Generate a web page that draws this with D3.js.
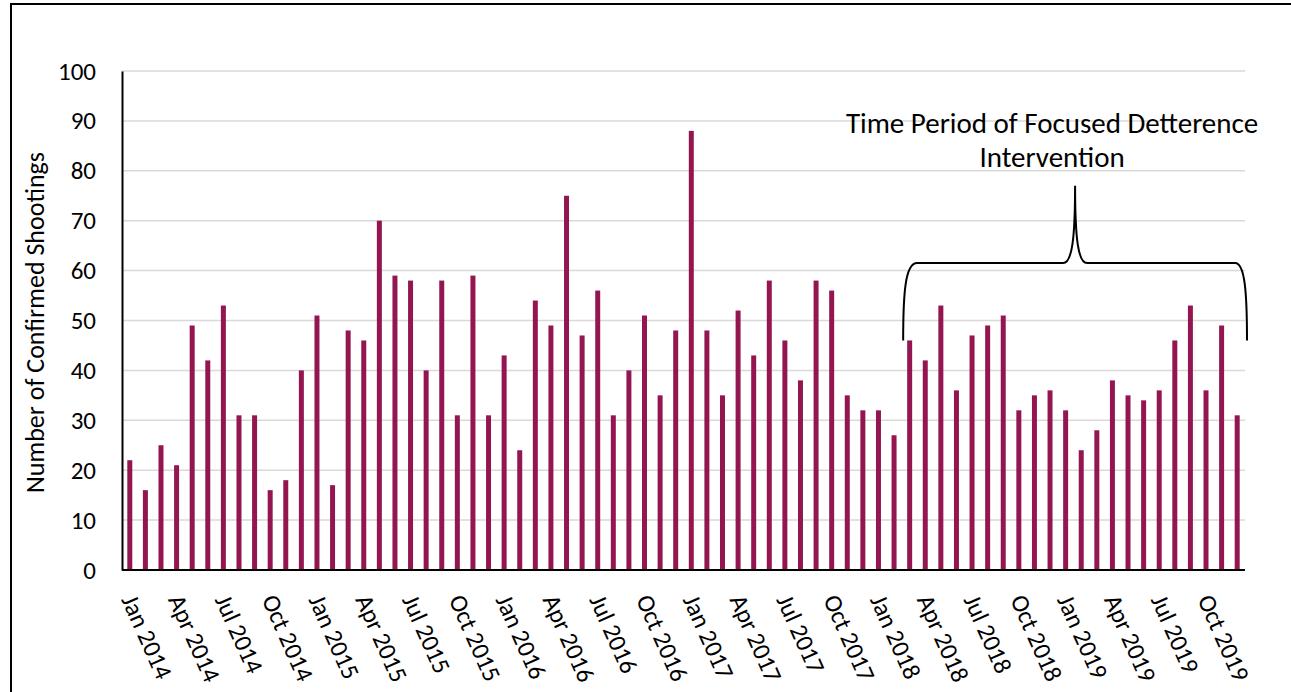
<!DOCTYPE html>
<html>
<head>
<meta charset="utf-8">
<script src="https://cdn.jsdelivr.net/npm/d3@7"></script>
<style>
  body { margin: 0; background: #fff; }
  svg text { font-family: Carlito, Calibri, Lato, sans-serif; fill: #000; }
</style>
</head>
<body>
<svg id="chart" width="1291" height="692"></svg>
<script>
const months = ['Jan', 'Feb', 'Mar', 'Apr', 'May', 'Jun', 'Jul', 'Aug', 'Sep', 'Oct', 'Nov', 'Dec']
const years = [2014, 2015, 2016, 2017, 2018, 2019]

// monthly confirmed shootings, Jan 2014 .. Dec 2019
const shootings = [
    22, 16, 25, 21, 49, 42, 53, 31, 31, 16, 18, 40,
    51, 17, 48, 46, 70, 59, 58, 40, 58, 31, 59, 31,
    43, 24, 54, 49, 75, 47, 56, 31, 40, 51, 35, 48,
    88, 48, 35, 52, 43, 58, 46, 38, 58, 56, 35, 32,
    32, 27, 46, 42, 53, 36, 47, 49, 51, 32, 35, 36,
    32, 24, 28, 38, 35, 34, 36, 46, 53, 36, 49, 31
]
const yTicks = [0, 10, 20, 30, 40, 50, 60, 70, 80, 90, 100]

// intervention period (month index where the bracket starts) and bracket levels
const interventionStart = 50
const bracketLevels = { foot: 46, bar: 61.5, peak: 77 }
const annotationLines = ['Time Period of Focused Detterence', 'Intervention']

const labels = []
years.forEach(y => months.forEach(m => labels.push(`${m} ${y}`)))

const margin = { top: 71, right: 46, bottom: 122, left: 122 }
const width = 1291 - margin.left - margin.right
const height = 692 - margin.top - margin.bottom

const svg = d3.select('#chart')

// outer frame
svg.append('rect')
    .attr('x', 11).attr('y', 4)
    .attr('width', 1300).attr('height', 720)
    .attr('fill', 'none')
    .attr('stroke', '#000')
    .attr('stroke-width', 2)

const g = svg.append('g').attr('transform', `translate(${margin.left},${margin.top})`)

const x = d3.scaleBand()
    .domain(d3.range(shootings.length))
    .range([0, width])
    .paddingInner(0.68)
    .paddingOuter(0.34)

const y = d3.scaleLinear().domain([0, 100]).range([height, 0])

// gridlines
g.selectAll('.grid')
    .data(yTicks.slice(1))
    .join('line')
    .attr('class', 'grid')
    .attr('x1', 0).attr('x2', width)
    .attr('y1', d => y(d)).attr('y2', d => y(d))
    .attr('stroke', '#d9d9d9')
    .attr('stroke-width', 1.5)

// bars
g.selectAll('.bar')
    .data(shootings)
    .join('rect')
    .attr('class', 'bar')
    .attr('x', (d, i) => x(i))
    .attr('y', d => y(d))
    .attr('width', x.bandwidth())
    .attr('height', d => height - y(d))
    .attr('fill', '#941650')

// y axis
const yAxis = d3.axisLeft(y).tickValues(yTicks).tickSize(0).tickPadding(26)
g.append('g')
    .call(yAxis)
    .call(a => a.select('.domain').attr('stroke', '#000').attr('stroke-width', 2))
    .call(a => a.selectAll('text').style('font-size', '25px').style('font-family', 'Carlito, Calibri, Lato, sans-serif').attr('fill', '#000'))

// x axis line
g.append('line')
    .attr('x1', 0).attr('x2', width)
    .attr('y1', height).attr('y2', height)
    .attr('stroke', '#000')
    .attr('stroke-width', 2)

// x labels every third month
const tickIdx = d3.range(0, shootings.length, 3)
g.selectAll('.xlab')
    .data(tickIdx)
    .join('text')
    .attr('class', 'xlab')
    .attr('transform', i => `translate(${x(i) + x.bandwidth() / 2 - 1},${height + 26}) rotate(66)`)
    .attr('dominant-baseline', 'central')
    .style('font-size', '25px')
    .text(i => labels[i])

// y axis title
svg.append('text')
    .attr('transform', `translate(35,${margin.top + height / 2 + 2}) rotate(-90)`)
    .attr('text-anchor', 'middle')
    .attr('dominant-baseline', 'central')
    .style('font-size', '26px')
    .text('Number of Confirmed Shootings')

// curly bracket over the intervention period
const bx0 = x(interventionStart) - 4
const bx1 = width + 2
const bmid = (bx0 + bx1) / 2
const yFoot = y(bracketLevels.foot)
const yBar = y(bracketLevels.bar)
const yPeak = y(bracketLevels.peak)
const bracket = d3.path()
bracket.moveTo(bx0, yFoot)
bracket.bezierCurveTo(bx0, yBar + 30, bx0 + 2, yBar, bx0 + 14, yBar)
bracket.lineTo(bmid - 12, yBar)
bracket.bezierCurveTo(bmid - 3, yBar, bmid, yBar - 25, bmid, yPeak)
bracket.bezierCurveTo(bmid, yBar - 25, bmid + 3, yBar, bmid + 12, yBar)
bracket.lineTo(bx1 - 12, yBar)
bracket.bezierCurveTo(bx1 - 2, yBar, bx1, yBar + 30, bx1, yFoot)
g.append('path')
    .attr('d', bracket.toString())
    .attr('fill', 'none')
    .attr('stroke', '#000')
    .attr('stroke-width', 2)

// annotation text
g.selectAll('.note')
    .data(annotationLines)
    .join('text')
    .attr('class', 'note')
    .attr('x', bmid - 23)
    .attr('y', (d, i) => y(89.5) + i * 34)
    .attr('text-anchor', 'middle')
    .attr('dominant-baseline', 'central')
    .style('font-size', '29px')
    .text(d => d)
</script>
</body>
</html>
